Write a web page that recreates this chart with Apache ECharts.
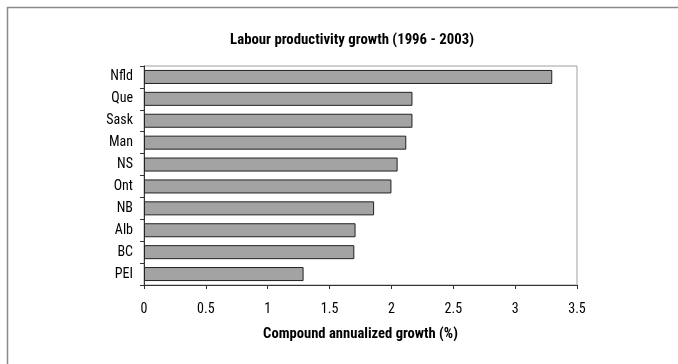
<!DOCTYPE html>
<html>
<head>
<meta charset="utf-8">
<script src="https://cdn.jsdelivr.net/npm/echarts@6/dist/echarts.min.js"></script>
<style>
  html, body { margin: 0; padding: 0; background: #fff; }
  #chart { width: 678px; height: 364px; }
</style>
</head>
<body>
<div id="chart"></div>
<script>
// Provinces, top to bottom
const provinces = ['Nfld', 'Que', 'Sask', 'Man', 'NS', 'Ont', 'NB', 'Alb', 'BC', 'PEI'];
// Compound annualized labour productivity growth, %
const growth = [3.30, 2.17, 2.17, 2.12, 2.05, 2.00, 1.86, 1.71, 1.70, 1.29];
const xTicks = [0, 0.5, 1, 1.5, 2, 2.5, 3, 3.5];

const FONT = "'Liberation Sans Narrow', 'Arial Narrow', 'Roboto Condensed', 'Liberation Sans', sans-serif";

const chart = echarts.init(document.getElementById('chart'), null, { renderer: 'canvas' });
chart.setOption({
  backgroundColor: '#ffffff',
  animation: false,
  title: {
    text: 'Labour productivity growth (1996 - 2003)',
    left: 347, top: 28, textAlign: 'center',
    textStyle: { fontFamily: FONT, fontSize: 14.8, fontWeight: 'bold', color: '#000' }
  },
  graphic: [{
    type: 'rect',
    shape: { x: 7.5, y: 7.5, width: 720, height: 420 },
    style: { fill: 'none', stroke: '#8a8a8a', lineWidth: 1.5 },
    silent: true
  }],
  grid: {
    left: 144, right: 101, top: 66, bottom: 79,
    show: true, borderColor: '#a0a0a0', borderWidth: 1, backgroundColor: 'transparent'
  },
  xAxis: {
    type: 'value',
    min: xTicks[0], max: xTicks[xTicks.length - 1], interval: 0.5,
    name: 'Compound annualized growth (%)',
    nameLocation: 'middle', nameGap: 42,
    nameTextStyle: { fontFamily: FONT, fontSize: 14.6, fontWeight: 'bold', color: '#000' },
    axisLine: { show: true, lineStyle: { color: '#333', width: 1 } },
    axisTick: { show: true, inside: false, length: 4, lineStyle: { color: '#333' } },
    axisLabel: { fontFamily: FONT, fontSize: 14, color: '#000', margin: 17,
      formatter: v => String(v) },
    splitLine: { show: false }
  },
  yAxis: {
    type: 'category',
    data: provinces,
    inverse: true,
    axisLine: { show: true, lineStyle: { color: '#333', width: 1 } },
    axisTick: { show: true, inside: false, length: 4, alignWithLabel: false, lineStyle: { color: '#333' } },
    axisLabel: { fontFamily: FONT, fontSize: 14, color: '#000', margin: 11 },
    splitLine: { show: false }
  },
  series: [{
    type: 'bar',
    data: growth,
    barCategoryGap: '36%',
    itemStyle: { color: '#a3a3a3', borderColor: '#222', borderWidth: 1 }
  }]
});
</script>
</body>
</html>
